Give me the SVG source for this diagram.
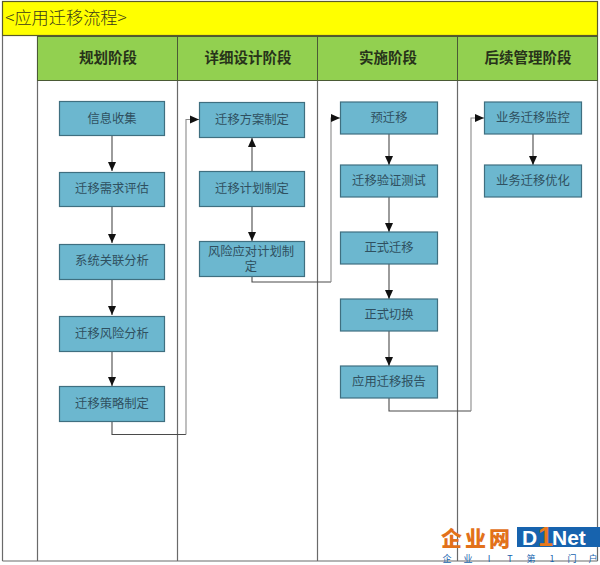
<svg xmlns="http://www.w3.org/2000/svg" width="600" height="565" viewBox="0 0 600 565">
<style>
text{font-family:"Noto Sans CJK SC","Liberation Serif",serif;text-anchor:middle;fill:#2f5060;font-size:12.3px}
.box rect{fill:#6cb7cf;stroke:#3f6f80;stroke-width:1.2}
.head rect{fill:#92d050;stroke:#4a5a35;stroke-width:1}
.head text{font-size:14.5px;font-weight:700;fill:#27331a}
.lane{stroke:#6a6a6a;stroke-width:1.2;fill:none}
.c path{fill:none;stroke:#4a4a4a;stroke-width:1.1}
.g path{fill:none;stroke:#8a8a8a;stroke-width:1.1}
#watermark .s{font-size:9px;fill:#1763ae}
#watermark .l{font-family:"Liberation Sans",sans-serif;font-weight:700;fill:#fff;text-anchor:start}
</style>
<defs><marker id="a" markerUnits="userSpaceOnUse" markerWidth="10" markerHeight="10" refX="9" refY="5" orient="auto"><path d="M0 1 L9 5 L0 9 Z" fill="#111"/></marker></defs>
<rect width="600" height="565" fill="#fff"/>
<g id="title"><rect x="2.5" y="1.5" width="595" height="34" fill="#ffff00" stroke="#5a5a2a" stroke-width="1.2"/><text x="66" y="24" style="font-size:17.2px;fill:#3a3a1a" font-weight="300">&lt;应用迁移流程&gt;</text></g>
<g id="lanes" class="lane"><path d="M2.5 36V561M37.5 36V561M177.5 36V561M317.5 36V561M457.5 36V561M597.5 36V561M2.5 561H597.5"/></g>
<g id="h1" class="head"><rect x="37.5" y="36.5" width="140" height="44"/><text x="108" y="63">规划阶段</text></g>
<g id="h2" class="head"><rect x="177.5" y="36.5" width="140" height="44"/><text x="248" y="63">详细设计阶段</text></g>
<g id="h3" class="head"><rect x="317.5" y="36.5" width="140" height="44"/><text x="388" y="63">实施阶段</text></g>
<g id="h4" class="head"><rect x="457.5" y="36.5" width="140" height="44"/><text x="528" y="63">后续管理阶段</text></g>
<g id="connectors">
<g class="c">
<path d="M112 135V171" marker-end="url(#a)"/><path d="M112 206V243" marker-end="url(#a)"/><path d="M112 279V315" marker-end="url(#a)"/><path d="M112 351V386" marker-end="url(#a)"/>
<path d="M252 171V138" marker-end="url(#a)"/><path d="M252 206V241" marker-end="url(#a)"/>
<path d="M389 134V165" marker-end="url(#a)"/><path d="M389 197V232" marker-end="url(#a)"/><path d="M389 264V299" marker-end="url(#a)"/><path d="M389 331V366" marker-end="url(#a)"/>
<path d="M533 134V165" marker-end="url(#a)"/>
<path d="M112 421V434.5H186"/><path d="M252 276V282H331"/><path d="M389 398V411H471"/>
</g>
<g class="g">
<path d="M186 434.5V119.5H199" marker-end="url(#a)"/><path d="M331 282V118H340" marker-end="url(#a)"/><path d="M471 411V118H484" marker-end="url(#a)"/>
</g>
</g>
<g id="n1" class="box"><rect x="59.5" y="101.5" width="105" height="34"/><text x="112" y="123">信息收集</text></g>
<g id="n2" class="box"><rect x="59.5" y="172.5" width="105" height="34"/><text x="112" y="193">迁移需求评估</text></g>
<g id="n3" class="box"><rect x="59.5" y="244.5" width="105" height="35"/><text x="112" y="265">系统关联分析</text></g>
<g id="n4" class="box"><rect x="59.5" y="316.5" width="105" height="35"/><text x="112" y="338">迁移风险分析</text></g>
<g id="n5" class="box"><rect x="59.5" y="386.5" width="105" height="35"/><text x="112" y="408">迁移策略制定</text></g>
<g id="n6" class="box"><rect x="199.5" y="102.5" width="105" height="35"/><text x="252" y="124">迁移方案制定</text></g>
<g id="n7" class="box"><rect x="199.5" y="171.5" width="105" height="35"/><text x="252" y="193">迁移计划制定</text></g>
<g id="n8" class="box"><rect x="199.5" y="241.5" width="105" height="35"/><text x="251" y="255.5">风险应对计划制</text><text x="251" y="270.5">定</text></g>
<g id="n9" class="box"><rect x="340.5" y="102" width="97" height="32"/><text x="389" y="122">预迁移</text></g>
<g id="n10" class="box"><rect x="340.5" y="165" width="97" height="32"/><text x="389" y="185">迁移验证测试</text></g>
<g id="n11" class="box"><rect x="340.5" y="232" width="97" height="32"/><text x="389" y="252">正式迁移</text></g>
<g id="n12" class="box"><rect x="340.5" y="299" width="97" height="32"/><text x="389" y="319">正式切换</text></g>
<g id="n13" class="box"><rect x="340.5" y="366" width="97" height="32"/><text x="389" y="386">应用迁移报告</text></g>
<g id="n14" class="box"><rect x="484.5" y="102" width="97" height="32"/><text x="533" y="122">业务迁移监控</text></g>
<g id="n15" class="box"><rect x="484.5" y="165" width="97" height="32"/><text x="533" y="185">业务迁移优化</text></g>
<g id="watermark">
<text x="477" y="546" style="font-size:21px;font-weight:900;fill:#e2711a;letter-spacing:3px">企业网</text>
<rect x="517" y="527" width="83" height="20" fill="#1763ae"/>
<text class="l" x="522" y="545" style="font-size:21px">D</text>
<text class="l" x="538" y="546" style="font-size:27px;fill:#e8781c">1</text>
<text class="l" x="552" y="545" style="font-size:21px">Net</text>
<text class="s" x="447" y="562">企</text><text class="s" x="468" y="562">业</text><text class="s" x="489" y="562">I</text><text class="s" x="510" y="562">T</text><text class="s" x="531" y="562">第</text><text class="s" x="552" y="562">1</text><text class="s" x="572" y="562">门</text><text class="s" x="593" y="562">户</text>
</g>
</svg>
